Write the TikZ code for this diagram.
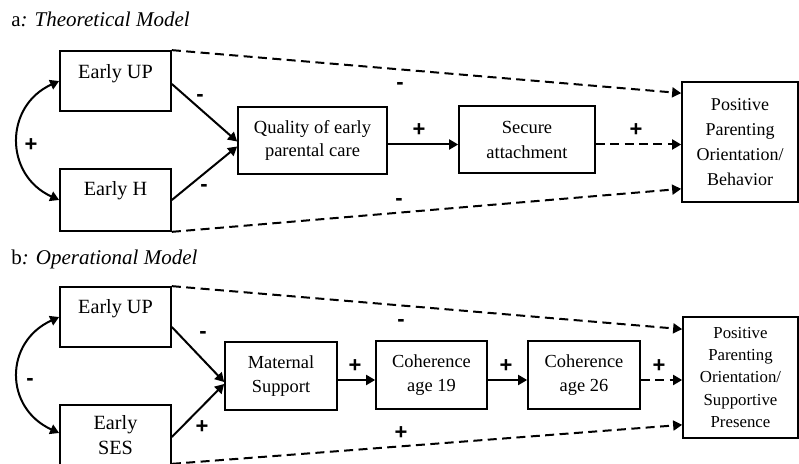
\documentclass[tikz,border=0pt]{standalone}
\usepackage{fontspec}
\setmainfont{Liberation Serif}
\newfontfamily\signfont{Liberation Sans}
\usetikzlibrary{arrows.meta}

\begin{document}
\begin{tikzpicture}[x=0.5pt, y=-0.5pt,
    box/.style={draw, line width=0.85pt, align=center, inner sep=0pt, font=\fontsize{9.2}{12}\selectfont},
    earlybox/.style={box, minimum width=55.5pt, font=\fontsize{10.1}{12.5}\selectfont},
    title/.style={anchor=base west, inner sep=0pt, font=\fontsize{10.5}{12}\selectfont},
    arr/.style={line width=1pt, -{Triangle[length=4.5pt,width=5pt]}},
    darr/.style={arr, dash pattern=on 4.5pt off 2.7pt},
    bothways/.style={line width=1pt, {Triangle[length=4.5pt,width=5pt]}-{Triangle[length=4.5pt,width=5pt]}},
    sign/.style={inner sep=0pt, font=\signfont\bfseries\fontsize{11}{11}\selectfont}]

    \useasboundingbox (0, 0) rectangle (799, 464);

    % a: theoretical model
    \node[title] (titleA) at (11, 26.5) {a\textit{: Theoretical Model}};

    \node[earlybox, minimum height=30pt, text height=7pt, text depth=9.7pt] (upA) at (115.5, 81) {Early UP};
    \node[earlybox, minimum height=31pt, text height=7pt, text depth=11.5pt] (hA) at (115.5, 200) {Early H};
    \node[box, minimum width=74.5pt, minimum height=33.5pt, font=\fontsize{9.25}{11.5}\selectfont] (careA) at (312.5, 140.5) {Quality of early\\parental care};
    \node[box, minimum width=68pt, minimum height=33.5pt, font=\fontsize{9.25}{12.5}\selectfont] (secA) at (527, 139.5) {Secure\\attachment};
    \node[box, minimum width=58pt, minimum height=60pt, font=\fontsize{9}{12.6}\selectfont] (posA) at (740, 142) {Positive\\Parenting\\Orientation/\\Behavior};

    \draw[bothways] (upA.west) .. controls +(-55, 25) and +(-55, -25) .. (hA.west);
    \draw[arr] ([yshift=-1.5pt]upA.east) -- ([yshift=-0.5pt]careA.west);
    \draw[arr] (hA.east) -- ([yshift=-3pt]careA.west);
    \draw[arr] ([yshift=-2pt]careA.east) -- ([yshift=-2pt]careA.east -| secA.west);
    \draw[darr] ([yshift=-2.5pt]secA.east) -- ([yshift=-2.5pt]secA.east -| posA.west);
    \draw[darr] (upA.north east) -- ([yshift=-6pt]posA.north west);
    \draw[darr] (hA.south east) -- ([yshift=7pt]posA.south west);

    \node[sign] (sCorrA) at (31, 145) {+};
    \node[sign] (sUpA) at (200, 98) {-};
    \node[sign] (sHA) at (204, 188) {-};
    \node[sign] (sCareA) at (419, 130) {+};
    \node[sign] (sSecA) at (636, 130) {+};
    \node[sign] (sTopA) at (400, 86) {-};
    \node[sign] (sBotA) at (399, 202) {-};

    % b: operational model
    \node[title] (titleB) at (11, 265) {b\textit{: Operational Model}};

    \node[earlybox, minimum height=30pt, text height=7pt, text depth=10pt] (upB) at (115.5, 317) {Early UP};
    \node[earlybox, minimum height=30pt] (sesB) at (115.5, 435) {Early\\SES};
    \node[box, minimum width=56pt, minimum height=34pt] (matB) at (281, 376) {Maternal\\Support};
    \node[box, minimum width=55.5pt, minimum height=34pt] (c19B) at (431.5, 375) {Coherence\\age 19};
    \node[box, minimum width=56pt, minimum height=34pt] (c26B) at (584, 375) {Coherence\\age 26};
    \node[box, minimum width=57.5pt, minimum height=60.5pt, font=\fontsize{8.4}{11.1}\selectfont] (posB) at (740.5, 377.5) {Positive\\Parenting\\Orientation/\\Supportive\\Presence};

    \draw[bothways] (upB.west) .. controls +(-55, 25) and +(-55, -25) .. ([yshift=1pt]sesB.west);
    \draw[arr] ([yshift=-5pt]upB.east) -- ([yshift=-3pt]matB.west);
    \draw[arr] ([yshift=-1pt]sesB.east) -- ([yshift=-4pt]matB.west);
    \draw[arr] ([yshift=-2pt]matB.east) -- ([yshift=-2pt]matB.east -| c19B.west);
    \draw[arr] ([yshift=-2.5pt]c19B.east) -- ([yshift=-2.5pt]c19B.east -| c26B.west);
    \draw[darr] ([yshift=-2.5pt]c26B.east) -- ([yshift=-2.5pt]c26B.east -| posB.west);
    \draw[darr] (upB.north east) -- ([yshift=-6.5pt]posB.north west);
    \draw[darr] ([yshift=1pt]sesB.south east) -- ([yshift=7pt]posB.south west);

    \node[sign] (sCorrB) at (30, 382) {-};
    \node[sign] (sUpB) at (203, 335) {-};
    \node[sign] (sSesB) at (202, 427) {+};
    \node[sign] (sMatB) at (355, 366) {+};
    \node[sign] (sC19B) at (506, 366) {+};
    \node[sign] (sC26B) at (659, 366) {+};
    \node[sign] (sTopB) at (401, 323) {-};
    \node[sign] (sBotB) at (401, 433) {+};

\end{tikzpicture}
\end{document}
